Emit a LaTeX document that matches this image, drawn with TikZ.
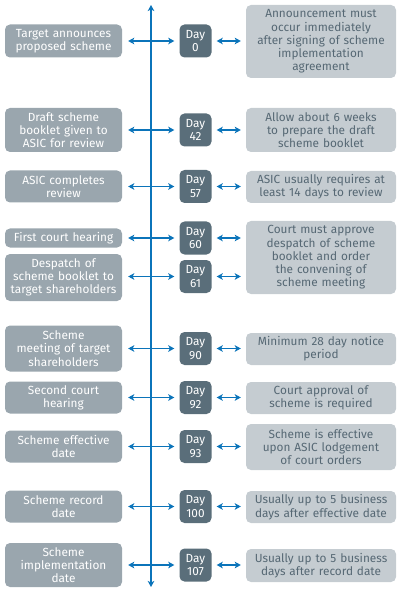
\documentclass[tikz,border=0pt]{standalone}
\usepackage{fontspec}
\setmainfont{Fira Sans}
\usetikzlibrary{arrows.meta}
\definecolor{evtgray}{HTML}{9AA6AE}
\definecolor{daygray}{HTML}{5A6E7A}
\definecolor{notegray}{HTML}{C5CCD1}
\definecolor{notetext}{HTML}{566874}
\definecolor{lineblue}{HTML}{0B74BA}
\begin{document}
\begin{tikzpicture}[x=1pt,y=-1pt,
    box/.style={rounded corners=5pt,align=center,inner sep=1pt,
      font=\fontsize{11.8}{13.3}\selectfont},
    evt/.style={box,fill=evtgray,text=white,text width=115pt,minimum height=#1},
    day/.style={box,fill=daygray,text=white,text width=30pt,minimum height=33pt},
    note/.style={box,fill=notegray,text=notetext,text width=148pt,minimum height=#1},
    dbl/.style={lineblue,line width=1.3pt,{Stealth[length=6pt,width=6.5pt,inset=1.5pt]}-{Stealth[length=6pt,width=6.5pt,inset=1.5pt]}},
    tolr/.style={dbl,shorten <=6pt,shorten >=5pt},
    tonote/.style={dbl,shorten <=5pt,shorten >=5pt}]
    \useasboundingbox (0,0) rectangle (400,593);
    \coordinate (top) at (151,5);
    \coordinate (bot) at (151,587);
    \draw[dbl] (top) -- (bot);
    % events
    \node[evt=33pt] (L0) at (63.5,41) {Target announces\\proposed scheme};
    \node[evt=44pt] (L42) at (63.5,130) {Draft scheme\\booklet given to\\ASIC for review};
    \node[evt=32pt] (L57) at (63.5,186.5) {ASIC completes\\review};
    \node[evt=19pt] (L60) at (63.5,238) {First court hearing};
    \node[evt=47pt] (L61) at (63.5,277.5) {Despatch of\\scheme booklet to\\target shareholders};
    \node[evt=46pt] (L90) at (63.5,348.5) {Scheme\\meeting of target\\shareholders};
    \node[evt=32pt] (L92) at (63.5,397.5) {Second court\\hearing};
    \node[evt=32pt] (L93) at (63.5,446.5) {Scheme effective\\date};
    \node[evt=32pt] (L100) at (63.5,506.5) {Scheme record\\date};
    \node[evt=44pt] (L107) at (63.5,565) {Scheme\\implementation\\date};
    % days
    \node[day] (D0) at (195.5,41) {Day\\0};
    \node[day] (D42) at (195.5,130) {Day\\42};
    \node[day] (D57) at (195.5,186.5) {Day\\57};
    \node[day] (D60) at (195.5,238) {Day\\60};
    \node[day] (D61) at (195.5,276.5) {Day\\61};
    \node[day] (D90) at (195.5,348.5) {Day\\90};
    \node[day] (D92) at (195.5,397.5) {Day\\92};
    \node[day] (D93) at (195.5,446.5) {Day\\93};
    \node[day] (D100) at (195.5,506.5) {Day\\100};
    \node[day] (D107) at (195.5,565) {Day\\107};
    % notes
    \node[note=73pt] (R0) at (321,41.5) {Announcement must\\occur immediately\\after signing of scheme\\implementation\\agreement};
    \node[note=44pt] (R42) at (321,130) {Allow about 6 weeks\\to prepare the draft\\scheme booklet};
    \node[note=32pt] (R57) at (321,187) {ASIC usually requires at\\least 14 days to review};
    \node[note=73pt] (R60) at (321,257.5) {Court must approve\\despatch of scheme\\booklet and order\\the convening of\\scheme meeting};
    \node[note=32pt] (R90) at (321,349) {Minimum 28 day notice\\period};
    \node[note=32pt] (R92) at (321,398) {Court approval of\\scheme is required};
    \node[note=46pt] (R93) at (321,447) {Scheme is effective\\upon ASIC lodgement\\of court orders};
    \node[note=32pt] (R100) at (321,507) {Usually up to 5 business\\days after effective date};
    \node[note=33pt] (R107) at (321,565.5) {Usually up to 5 business\\days after record date};
    % arrows
    \draw[tolr] (L0.east) -- (L0.east -| D0.west);
    \draw[tolr] (L42.east) -- (L42.east -| D42.west);
    \draw[tolr] (L57.east) -- (L57.east -| D57.west);
    \draw[tolr] (L60.east) -- (L60.east -| D60.west);
    \draw[tolr] (D61.west -| L61.east) -- (D61.west);
    \draw[tolr] (L90.east) -- (L90.east -| D90.west);
    \draw[tolr] (L92.east) -- (L92.east -| D92.west);
    \draw[tolr] (L93.east) -- (L93.east -| D93.west);
    \draw[tolr] (L100.east) -- (L100.east -| D100.west);
    \draw[tolr] (L107.east) -- (L107.east -| D107.west);
    \draw[tonote] (D0.east) -- (D0.east -| R0.west);
    \draw[tonote] (D42.east) -- (D42.east -| R42.west);
    \draw[tonote] (D57.east) -- (D57.east -| R57.west);
    \draw[tonote] (D60.east) -- (D60.east -| R60.west);
    \draw[tonote] (D61.east) -- (D61.east -| R60.west);
    \draw[tonote] (D90.east) -- (D90.east -| R90.west);
    \draw[tonote] (D92.east) -- (D92.east -| R92.west);
    \draw[tonote] (D93.east) -- (D93.east -| R93.west);
    \draw[tonote] (D100.east) -- (D100.east -| R100.west);
    \draw[tonote] (D107.east) -- (D107.east -| R107.west);
\end{tikzpicture}
\end{document}
